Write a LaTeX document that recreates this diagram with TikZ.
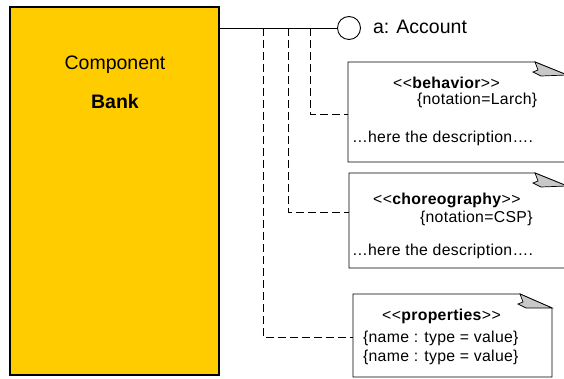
\documentclass[tikz,border=0pt]{standalone}
\usepackage{fontspec}
\setmainfont{Liberation Sans}[Ligatures=TeXOff]
\newfontfamily\notefont{Liberation Sans}[Ligatures=TeXOff, LetterSpace=2]
\usetikzlibrary{calc}
\definecolor{bankyellow}{HTML}{FFCC00}
\definecolor{foldgray}{HTML}{C8C8C8}
\tikzset{
  every node/.style={inner sep=0pt, outer sep=0pt},
  compbox/.style={draw=black, line width=1.8pt, fill=bankyellow, rectangle,
    minimum width=209pt, minimum height=368pt},
  notearea/.style={rectangle, draw=none},
  notebox/.style={draw=black, line width=0.9pt, fill=white},
  foldtri/.style={draw=black, line width=0.7pt, fill=foldgray},
  wire/.style={draw=black, line width=0.9pt},
  dashwire/.style={draw=black, line width=0.9pt, dash pattern=on 8pt off 4pt},
  iface/.style={circle, draw=black, line width=0.9pt, minimum size=23pt},
  big/.style={font=\fontsize{19.5}{22}\selectfont},
  txt/.style={font=\notefont\fontsize{15.8}{18}\selectfont, anchor=west},
}
\newcommand{\stereo}[1]{<\kern0.6pt<\textbf{#1}>\kern0.6pt>}
\begin{document}
\begin{tikzpicture}[x=1pt, y=-1pt]
  \useasboundingbox (0,0) rectangle (564,379);
  \clip (0,0) rectangle (564,379);

  % component
  \node[compbox] (bank) at (114.5,191) {};
  \node[big] (comptitle) at (115,65) {Component};
  \node[big, font=\fontsize{19.5}{22}\selectfont\bfseries] (bankname) at (115,102) {Bank};

  % provided interface
  \node[iface] (acc) at (349,28) {};
  \node[big, anchor=west] (acclabel) at (373,27) {a: Account};

  % junctions on the interface wire
  \coordinate (j1) at (310,28);
  \coordinate (j2) at (288,28);
  \coordinate (j3) at (263,28);

  % note areas
  \node[notearea, minimum width=219pt, minimum height=100pt] (behav) at (457.5,112) {};
  \node[notearea, minimum width=218pt, minimum height=95pt] (chor) at (458,220.5) {};
  \node[notearea, minimum width=199pt, minimum height=83pt] (props) at (452.5,335.5) {};

  % connectors
  \draw[wire] (bank.east |- acc) -- (acc.west);
  \draw[dashwire] (j1) |- (behav.west |- 0,114);
  \draw[dashwire] (j2) |- (chor.west |- 0,212);
  \draw[dashwire] (j3) |- (props.west |- 0,337);

  % note outlines with folded corners
  \foreach \n/\fy in {behav/13, chor/13, props/14} {
    \draw[notebox] (\n.south west) |- ([xshift=-32pt]\n.north east)
      -- ([yshift=-\fy pt]\n.north east) -- (\n.south east) -- cycle;
    \filldraw[foldtri] ([xshift=-32pt]\n.north east) -- ++(3,8) -- ++(-5,2)
      -- ++(8,4) -- ([yshift=-\fy pt]\n.north east) -- cycle;
  }

  % behavior note
  \node[txt] (bh1) at (393,83) {\stereo{behavior}};
  \node[txt] (bh2) at (417,100) {\{notation=Larch\}};
  \node[txt] (bh3) at (352,138) {…here the description….};

  % choreography note
  \node[txt] (ch1) at (373,200) {\stereo{choreography}};
  \node[txt] (ch2) at (420,218) {\{notation=CSP\}};
  \node[txt] (ch3) at (352,251) {…here the description….};

  % properties note
  \node[txt] (pr1) at (382,316) {\stereo{properties}};
  \node[txt] (pr2) at (363,338) {\{name : type = value\}};
  \node[txt] (pr3) at (363,357) {\{name : type = value\}};
\end{tikzpicture}
\end{document}
